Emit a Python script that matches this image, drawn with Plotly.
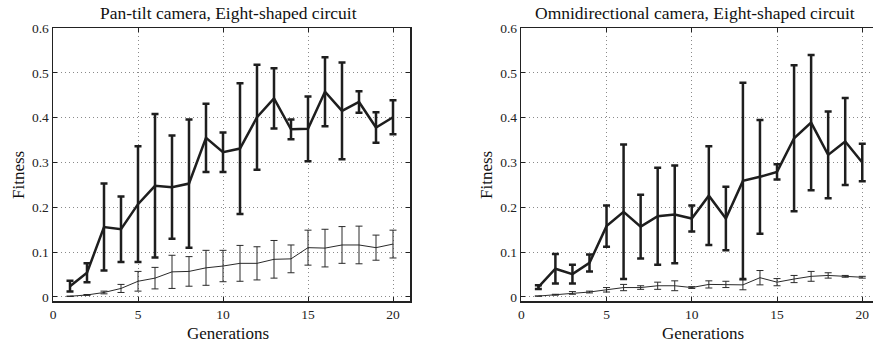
import plotly.graph_objects as go

generations = list(range(1, 21))

# Pan-tilt camera
pt_best_mean = [0.024, 0.054, 0.156, 0.151, 0.207, 0.248, 0.245, 0.253, 0.355, 0.323,
                0.331, 0.401, 0.443, 0.374, 0.375, 0.458, 0.415, 0.435, 0.378, 0.401]
pt_best_err = [0.012, 0.021, 0.097, 0.073, 0.129, 0.160, 0.115, 0.143, 0.076, 0.044,
               0.146, 0.117, 0.067, 0.022, 0.072, 0.077, 0.108, 0.024, 0.034, 0.038]
pt_avg_mean = [0.0015, 0.0045, 0.010, 0.019, 0.035, 0.042, 0.056, 0.057, 0.065, 0.069,
               0.075, 0.075, 0.084, 0.085, 0.110, 0.109, 0.116, 0.116, 0.110, 0.118]
pt_avg_err = [0.0005, 0.001, 0.003, 0.009, 0.022, 0.024, 0.037, 0.033, 0.039, 0.035,
              0.040, 0.037, 0.042, 0.031, 0.039, 0.042, 0.041, 0.042, 0.028, 0.031]

# Omnidirectional camera
om_best_mean = [0.022, 0.063, 0.051, 0.076, 0.158, 0.190, 0.157, 0.180, 0.184, 0.175,
                0.226, 0.175, 0.259, 0.268, 0.279, 0.354, 0.389, 0.317, 0.347, 0.300]
om_best_err = [0.004, 0.033, 0.021, 0.019, 0.046, 0.150, 0.071, 0.108, 0.109, 0.029,
               0.110, 0.071, 0.219, 0.127, 0.017, 0.163, 0.151, 0.097, 0.097, 0.042]
om_avg_mean = [0.002, 0.005, 0.009, 0.011, 0.016, 0.021, 0.021, 0.025, 0.025, 0.021,
               0.028, 0.028, 0.027, 0.043, 0.033, 0.040, 0.046, 0.048, 0.046, 0.044]
om_avg_err = [0.0, 0.001, 0.003, 0.002, 0.005, 0.007, 0.004, 0.008, 0.011, 0.002,
              0.008, 0.007, 0.011, 0.016, 0.008, 0.008, 0.011, 0.006, 0.002, 0.002]

panel_titles = ["Pan-tilt camera, Eight-shaped circuit",
                "Omnidirectional camera, Eight-shaped circuit"]
x_ticks = [0, 5, 10, 15, 20]
y_ticks = [0, 0.1, 0.2, 0.3, 0.4, 0.5, 0.6]

FONT = "Liberation Serif"
DARK = "#1e1e1e"
THIN = "#2a2a2a"

fig = go.Figure()

def add_series(x, mean, err, xa, ya, width, capw, color):
    fig.add_trace(go.Scatter(
        x=x, y=mean, mode="lines", xaxis=xa, yaxis=ya,
        line=dict(color=color, width=width),
        error_y=dict(type="data", array=err, symmetric=True, color=color,
                     thickness=width, width=capw),
        showlegend=False, hoverinfo="skip"))

add_series(generations, pt_avg_mean, pt_avg_err, "x", "y", 1.0, 3.5, THIN)
add_series(generations, pt_best_mean, pt_best_err, "x", "y", 2.5, 3.5, DARK)
add_series(generations, om_avg_mean, om_avg_err, "x2", "y2", 1.0, 3.5, THIN)
add_series(generations, om_best_mean, om_best_err, "x2", "y2", 2.5, 3.5, DARK)

W, H = 873, 347
yd = [(H - 301) / H, (H - 28) / H]

common_x = dict(tickvals=x_ticks, ticks="inside", ticklen=4, tickcolor="#222",
                showgrid=True, gridcolor="#8a8a8a", griddash="1px,3px", gridwidth=1,
                showline=True, linecolor="#222", linewidth=1.5, zeroline=False,
                automargin=False,
                tickfont=dict(family=FONT, size=13.5, color="#222"))
common_y = dict(tickvals=y_ticks, ticktext=[str(v) if v else "0" for v in y_ticks],
                ticks="inside", ticklen=4, tickcolor="#222",
                showgrid=True, gridcolor="#8a8a8a", griddash="1px,3px", gridwidth=1,
                showline=True, linecolor="#222", linewidth=1.5, zeroline=False,
                automargin=False, range=[-0.009, 0.6],
                tickfont=dict(family=FONT, size=13.5, color="#222"))

fig.update_layout(
    width=W, height=H,
    margin=dict(l=0, r=0, t=0, b=0, autoexpand=False),
    paper_bgcolor="white", plot_bgcolor="white",
    xaxis=dict(domain=[53 / W, 410 / W], range=[0, 21], anchor="y", mirror="ticks", **common_x),
    yaxis=dict(domain=yd, anchor="x", mirror="ticks", **common_y),
    xaxis2=dict(domain=[521.3 / W, 1.0], range=[0, 20.63], anchor="y2", mirror="ticks", **common_x),
    yaxis2=dict(domain=yd, anchor="x2", mirror=False, **common_y),
)

ann = []
ann.append(dict(text=panel_titles[0], x=228 / W, y=1 - 13 / H))
ann.append(dict(text=panel_titles[1], x=695 / W, y=1 - 13 / H))
ann.append(dict(text="Generations", x=228 / W, y=1 - 333 / H, size=17))
ann.append(dict(text="Generations", x=703 / W, y=1 - 333 / H, size=17))
ann.append(dict(text="Fitness", x=18 / W, y=1 - 175 / H, size=17, angle=-90))
ann.append(dict(text="Fitness", x=486 / W, y=1 - 175 / H, size=17, angle=-90))
for a in ann:
    fig.add_annotation(text=a["text"], x=a["x"], y=a["y"], xref="paper", yref="paper",
                       xanchor="center", yanchor="middle", showarrow=False,
                       textangle=a.get("angle", 0),
                       font=dict(family=FONT, size=a.get("size", 17.5), color="#111"))

fig.write_html("out.html", config={"displayModeBar": False, "staticPlot": True},
               post_script="document.body.style.margin='0';document.body.style.overflow='hidden';")
